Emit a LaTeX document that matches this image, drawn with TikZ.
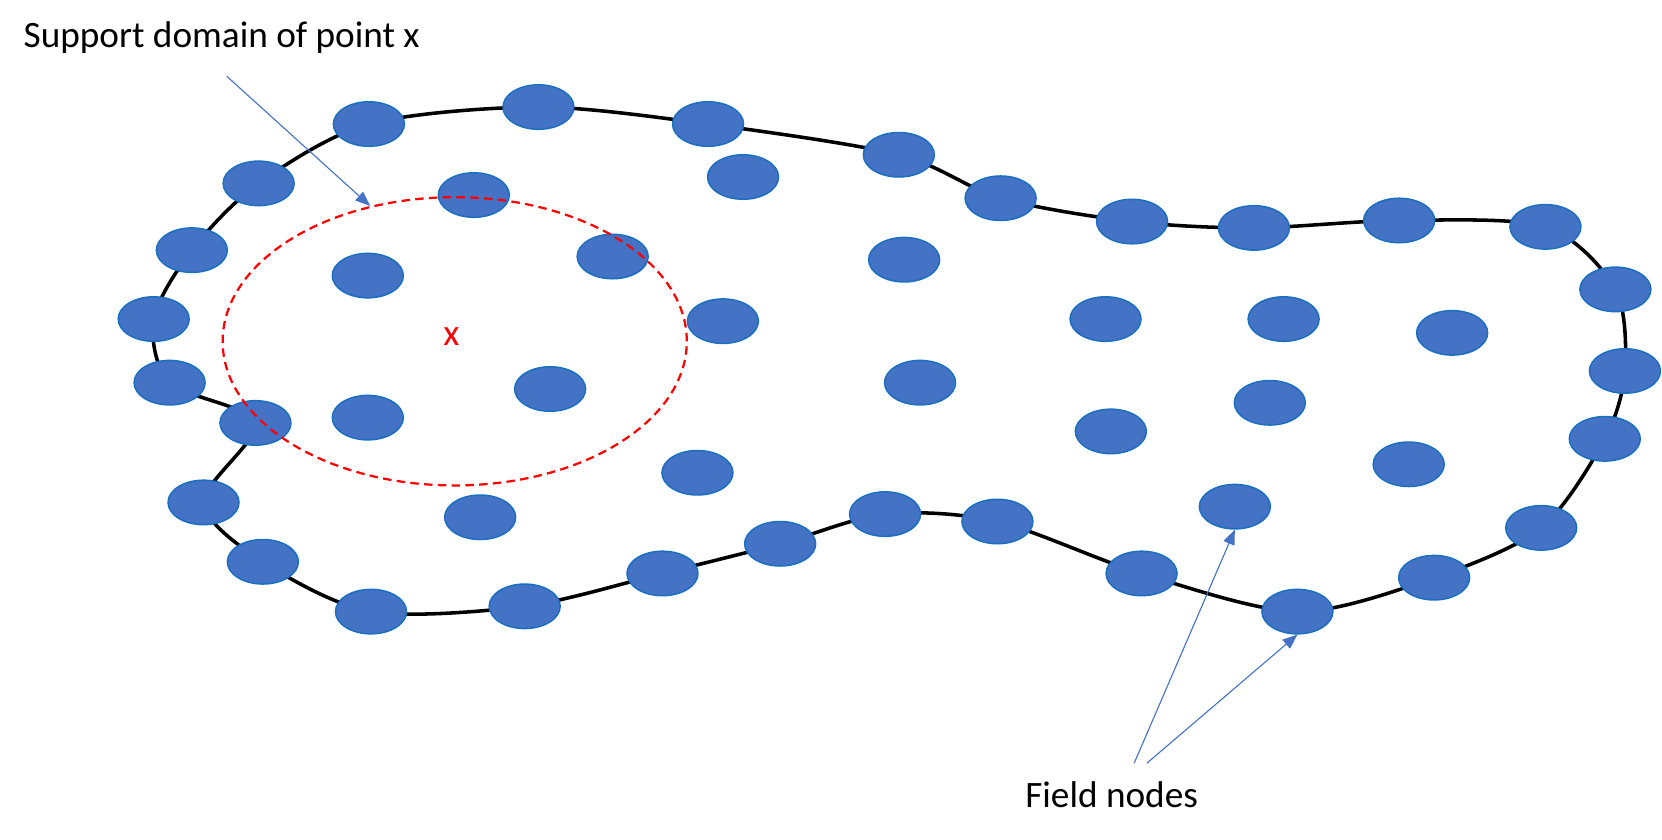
\documentclass[tikz,border=0pt]{standalone}
\usepackage{fontspec}
\setmainfont{Carlito}
\usetikzlibrary{shapes.geometric,arrows.meta}
\pgfdeclarelayer{background}
\pgfsetlayers{background,main}
\definecolor{nodefill}{HTML}{4472C4}
\definecolor{nodeline}{HTML}{1A6FC0}
\definecolor{arrowblue}{HTML}{4472C4}
\begin{document}
\begin{tikzpicture}[x=0.02cm,y=-0.02cm,
  fnode/.style={ellipse, draw=nodeline, fill=nodefill, line width=0.8pt,
    minimum width=1.34cm, minimum height=0.84cm, inner sep=0pt},
  boundary/.style={line width=1.9pt, black},
  supportdom/.style={ellipse, draw=red, line width=1.2pt, dash pattern=on 0.16cm off 0.1cm,
    minimum width=8.76cm, minimum height=5.44cm, inner sep=0pt},
  ptr/.style={draw=arrowblue, line width=0.6pt, -{Triangle[length=0.28cm,width=0.22cm]}},
  lbl/.style={font=\fontsize{20}{24}\selectfont, inner sep=0pt}]
\useasboundingbox (0,0) rectangle (1568,792);

% boundary nodes
\node[fnode] (b1) at (348,117) {};
\node[fnode] (b2) at (508,101) {};
\node[fnode] (b3) at (668,117) {};
\node[fnode] (b4) at (848,146) {};
\node[fnode] (b5) at (944,187) {};
\node[fnode] (b6) at (1068,209) {};
\node[fnode] (b7) at (1183,215) {};
\node[fnode] (b8) at (1320,208) {};
\node[fnode] (b9) at (1458,214) {};
\node[fnode] (b10) at (1524,273) {};
\node[fnode] (b11) at (1533,350) {};
\node[fnode] (b12) at (1514,414) {};
\node[fnode] (b13) at (1454,498) {};
\node[fnode] (b14) at (1353,545) {};
\node[fnode] (b15) at (1224,577) {};
\node[fnode] (b16) at (1077,541) {};
\node[fnode] (b17) at (941,492) {};
\node[fnode] (b18) at (835,485) {};
\node[fnode] (b19) at (736,513) {};
\node[fnode] (b20) at (625,541) {};
\node[fnode] (b21) at (495,572) {};
\node[fnode] (b22) at (350,577) {};
\node[fnode] (b23) at (248,530) {};
\node[fnode] (b24) at (192,474) {};
\node[fnode] (b25) at (241,399) {};
\node[fnode] (b26) at (160,361) {};
\node[fnode] (b27) at (145,301) {};
\node[fnode] (b28) at (181,236) {};
\node[fnode] (b29) at (244,173) {};

% interior nodes
\node[fnode] (i1) at (447,184) {};
\node[fnode] (i2) at (578,242) {};
\node[fnode] (i3) at (347,260) {};
\node[fnode] (i4) at (347,394) {};
\node[fnode] (i5) at (519,367) {};
\node[fnode] (i6) at (701,167) {};
\node[fnode] (i7) at (682,303) {};
\node[fnode] (i8) at (853,245) {};
\node[fnode] (i9) at (868,361) {};
\node[fnode] (i10) at (658,446) {};
\node[fnode] (i11) at (453,488) {};
\node[fnode] (i12) at (1043,301) {};
\node[fnode] (i13) at (1211,301) {};
\node[fnode] (i14) at (1370,314) {};
\node[fnode] (i15) at (1048,407) {};
\node[fnode] (i16) at (1198,380) {};
\node[fnode] (i17) at (1329,438) {};
\node[fnode] (i18) at (1165,478) {};

\begin{pgfonlayer}{background}
\draw[boundary] plot[smooth cycle, tension=0.5] coordinates {
  (b1.center) (b2.center) (b3.center) (b4.center) (b5.center) (b6.center)
  (b7.center) (b8.center) (b9.center) (b10.center) (b11.center) (b12.center)
  (b13.center) (b14.center) (b15.center) (b16.center) (b17.center) (b18.center)
  (b19.center) (b20.center) (b21.center) (b22.center) (b23.center) (b24.center)
  (b25.center) (b26.center) (b27.center) (b28.center) (b29.center)};
\end{pgfonlayer}

% support domain
\node[supportdom] (support) at (429,322) {};
\node[lbl, text=red] (px) at (426,318) {x};

% labels
\node[lbl, anchor=base west] (title) at (22,45) {Support domain of point x};
\node[lbl, anchor=base west] (field) at (967,762) {Field nodes};

\coordinate (a1) at (214,72);
\coordinate (a2) at (1070,720);
\coordinate (a3) at (1082,720);
\draw[ptr] (a1) -- (support.122);
\draw[ptr] (a2) -- (i18.south);
\draw[ptr] (a3) -- (b15.south);
\end{tikzpicture}
\end{document}
